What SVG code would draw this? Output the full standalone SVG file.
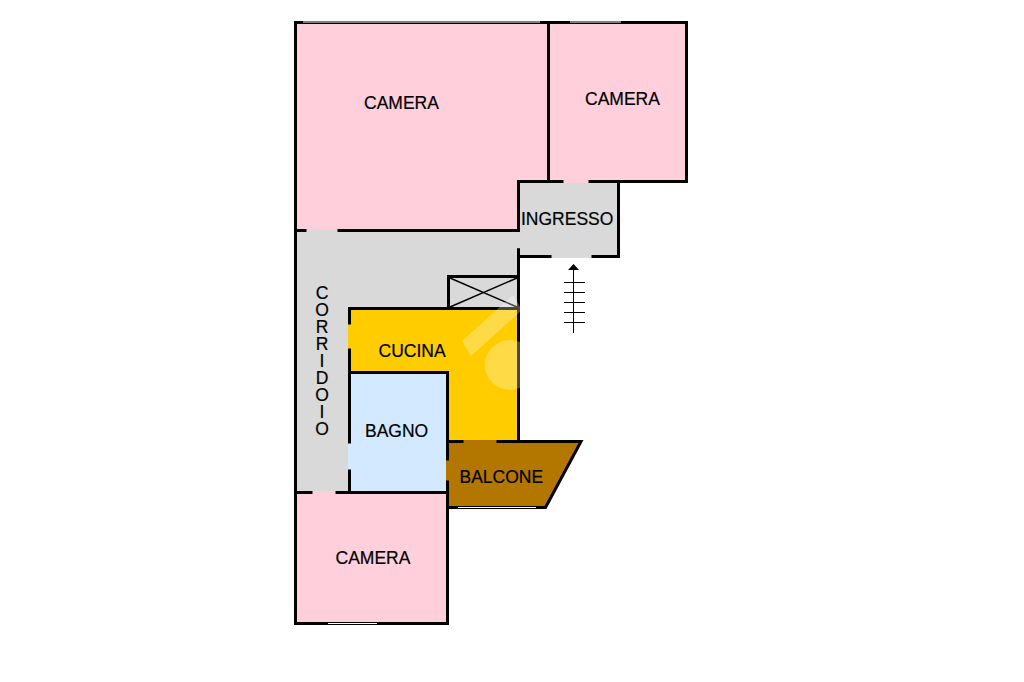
<svg xmlns="http://www.w3.org/2000/svg" width="1024" height="682" viewBox="0 0 1024 682">
<style>
.w{fill:none;stroke:#000;stroke-width:3;stroke-linecap:square;stroke-linejoin:miter}
.t{stroke:#000;stroke-width:1;fill:none}
.win{stroke:#fff;stroke-width:1;fill:none}
text{font-family:"Liberation Sans",Arial,sans-serif;font-size:17.5px;fill:#000;stroke:#000;stroke-width:.2px}
.pink{fill:#ffd0dc}.grey{fill:#d9d9d9}.yel{fill:#ffcc00}.blue{fill:#d3e9ff}.brown{fill:#b37700}
</style>
<rect width="1024" height="682" fill="#fff"/>
<g id="fills">
<rect class="pink" x="295" y="22" width="254" height="209"/>
<rect class="pink" x="549" y="22" width="138" height="160"/>
<path class="grey" d="M518 181H619V257H518V276H449V308H349V492H295V231H518Z"/>
<rect class="grey" x="449" y="276" width="70" height="33"/>
<path class="yel" d="M349 308H519V441H448V372H349Z"/>
<rect class="blue" x="349" y="372" width="99" height="121"/>
<path class="brown" d="M447 441H581L545 507H447Z"/>
<rect class="pink" x="295" y="492" width="153" height="131"/>
</g>
<g id="gaps">
<rect class="pink" x="563" y="180" width="26" height="3" opacity=".75"/>
<rect class="grey" x="306" y="229" width="32" height="3"/>
<rect class="grey" x="551" y="255" width="41" height="3"/>
<rect class="grey" x="517" y="232" width="3" height="17"/>
<rect class="yel" x="348" y="324" width="3" height="25"/>
<rect class="blue" x="348" y="443" width="3" height="27"/>
<rect class="pink" x="312" y="491" width="24" height="3"/>
<rect class="brown" x="463" y="440" width="34" height="3"/>
<rect class="brown" x="446" y="460" width="3" height="21"/>
</g>
<g id="walls" class="w">
<path d="M295.5 22.5H686.5V181.5H590M562 181.5H518.5V230.5"/>
<path d="M548.5 22.5V181.5"/>
<path d="M295.5 22.5V623.5H447.5V482M447.5 459V372.5H349.5"/>
<path d="M296 230.5H305M339 230.5H518.5"/>
<path d="M618.5 181.5V256.5H593M550 256.5H518.5V250"/>
<path d="M518.5 250V441.5"/>
<path d="M349.5 308.5H518.5M349.5 308.5V323M349.5 350V442M349.5 471V492.5"/>
<path d="M296 492.5H311M337 492.5H447.5"/>
<path d="M448.5 308.5V276.5H518.5"/>
<path d="M448 441.5H462M498 441.5H581L545.5 507.5H448"/>
</g>
<g id="details">
<path class="win" d="M303 22H540M570 22H621M458 507.5H536M328 623.5H377"/>
<path d="M450 278L517 307M517 278L450 307" stroke="#000" stroke-width="1.5" fill="none"/>
<path class="t" d="M564 282.5H585M564 292.5H585M564 302.5H585M564 312.5H585M564 322.5H585"/>
<path class="t" d="M573.5 268V333" stroke-width="1.6"/>
<path d="M573.5 264L579 270H568Z" fill="#000"/>
</g>
<g id="watermark" fill="#fff" opacity=".28">
<path d="M462 341L513 295L522 310L471 356Z"/>
<circle cx="510" cy="365" r="25"/>
</g>
<g id="labels">
<text x="364" y="109">CAMERA</text>
<text x="585" y="105">CAMERA</text>
<text x="521" y="225">INGRESSO</text>
<text x="378.5" y="357">CUCINA</text>
<text x="365" y="437">BAGNO</text>
<text x="459.5" y="483">BALCONE</text>
<text x="335.5" y="564">CAMERA</text>
<text x="322" y="283" style="writing-mode:vertical-rl;text-orientation:upright;letter-spacing:-3px">CORRIDOIO</text>
</g>
</svg>
